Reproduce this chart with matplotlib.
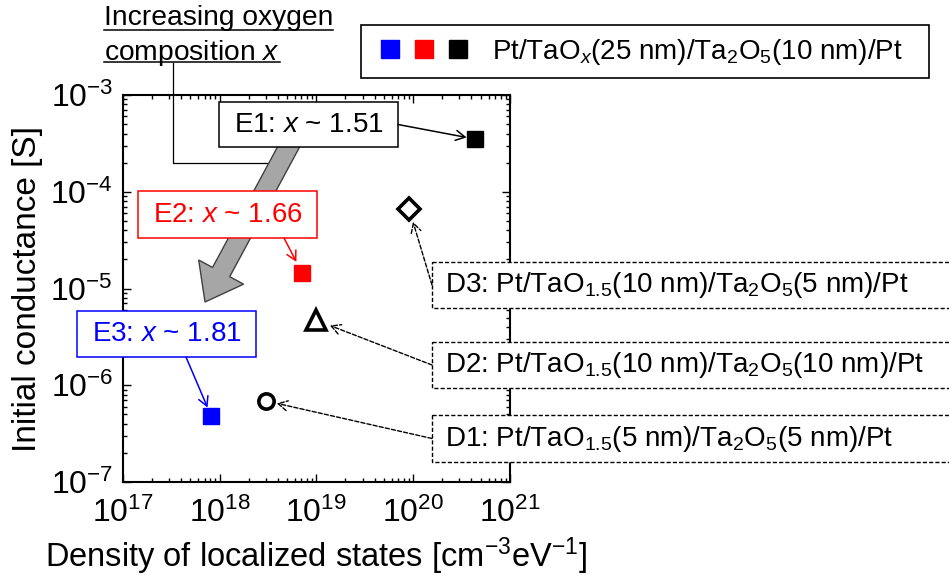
import numpy as np
import matplotlib
matplotlib.use("Agg")
import matplotlib.pyplot as plt
import matplotlib.transforms as mtransforms
from matplotlib.lines import Line2D
from matplotlib.patches import Rectangle, FancyArrow
from matplotlib.legend_handler import HandlerTuple
from matplotlib.ticker import LogLocator, NullFormatter

plt.rcParams['font.family'] = ['Liberation Sans', 'DejaVu Sans']
plt.rcParams['mathtext.fontset'] = 'custom'
plt.rcParams['mathtext.rm'] = 'Liberation Sans'
plt.rcParams['mathtext.it'] = 'Liberation Sans:italic'
plt.rcParams['mathtext.bf'] = 'Liberation Sans:bold'

# E-series: Pt/TaOx(25 nm)/Ta2O5(10 nm)/Pt  (E3, E2, E1)
e_x = [8.2e17, 7.1e18, 4.4e20]
e_y = [4.8e-7, 1.46e-5, 3.5e-4]
e_colors = ['#0000ff', '#ff0000', '#000000']
e_labels = ['E3: $x$ ~ 1.81', 'E2: $x$ ~ 1.66', 'E1: $x$ ~ 1.51']

# D-series: open markers (D1, D2, D3)
d_x = [3.0e18, 1.0e19, 9.1e19]
d_y = [6.9e-7, 4.7e-6, 6.6e-5]
d_markers = ['o', '^', 'D']
d_labels = ['D1: Pt/TaO$_{1.5}$(5 nm)/Ta$_2$O$_5$(5 nm)/Pt',
            'D2: Pt/TaO$_{1.5}$(10 nm)/Ta$_2$O$_5$(10 nm)/Pt',
            'D3: Pt/TaO$_{1.5}$(10 nm)/Ta$_2$O$_5$(5 nm)/Pt']

legend_label = 'Pt/TaO$_x$(25 nm)/Ta$_2$O$_5$(10 nm)/Pt'

W, H = 949, 581
fig = plt.figure(figsize=(W / 100, H / 100), dpi=100)
ax = fig.add_axes([122.7 / W, 1 - 482 / H, 387.3 / W, 387 / H])

# pixel coords measured from the top-left corner of the image
PX = mtransforms.Affine2D().scale(1 / W, -1 / H).translate(0, 1) + fig.transFigure

for x, y, c in zip(e_x, e_y, e_colors):
    ax.plot(x, y, 's', color=c, markersize=11.5, zorder=4)
ms = {'o': 11, '^': 14, 'D': 11}
for x, y, m in zip(d_x, d_y, d_markers):
    ax.plot(x, y, m, mfc='white', mec='black', mew=2.6, markersize=ms[m], zorder=4)

ax.set_xscale('log')
ax.set_yscale('log')
ax.set_xlim(1e17, 1e21)
ax.set_ylim(1e-7, 1e-3)
ax.xaxis.set_major_locator(LogLocator(base=10, numticks=10))
ax.yaxis.set_major_locator(LogLocator(base=10, numticks=10))
ax.xaxis.set_minor_locator(LogLocator(base=10, subs=np.arange(2, 10), numticks=20))
ax.yaxis.set_minor_locator(LogLocator(base=10, subs=np.arange(2, 10), numticks=20))
ax.xaxis.set_minor_formatter(NullFormatter())
ax.yaxis.set_minor_formatter(NullFormatter())
ax.tick_params(which='both', direction='in', top=True, right=True, width=1.0)
ax.tick_params(which='major', length=5.5, labelsize=23)
ax.tick_params(which='minor', length=3)
ax.tick_params(axis='x', which='major', pad=11)
ax.tick_params(axis='y', which='major', pad=7)
for s in ax.spines.values():
    s.set_linewidth(1.5)

ax.set_xlabel('Density of localized states [cm$^{-3}$eV$^{-1}$]', fontsize=23.5)
ax.set_ylabel('Initial conductance [S]', fontsize=24)
ax.xaxis.set_label_coords(0.5, -0.138)
ax.yaxis.set_label_coords(-0.205, 0.5)

# legend with the three coloured squares in one entry
keys = tuple(Line2D([], [], marker='s', ls='none', color=c, markersize=12.5) for c in e_colors)
leg = ax.legend([keys], [legend_label], handler_map={tuple: HandlerTuple(ndivide=None, pad=0)},
                loc='upper left', bbox_to_anchor=(361 / W, 1 - 79 / H, 568 / W, 54 / H),
                bbox_transform=fig.transFigure, mode='expand', borderaxespad=0,
                fontsize=20, handlelength=3.7, handletextpad=0.6, borderpad=0.42,
                fancybox=False, framealpha=1, edgecolor='black')
leg.get_frame().set_linewidth(1.2)

# big grey arrow (increasing x)
tip = np.array([205.0, 302.0])
start = np.array([297.7, 130.0])
d = tip - start
ax.add_patch(FancyArrow(start[0], start[1], d[0], d[1], width=19.5, head_width=51,
                        head_length=34, length_includes_head=True, fc='#a6a6a6',
                        ec='#404040', lw=1.0, transform=PX, clip_on=False, zorder=6))
ax.add_line(Line2D([173.3, 173.3, 285], [63, 162.7, 162.7], color='black', lw=0.9,
                   transform=PX, clip_on=False, zorder=5))

# header text, underlined
t1 = fig.text(104 / W, 1 - 25 / H, 'Increasing oxygen', fontsize=20.3, va='baseline')
t2 = fig.text(104 / W, 1 - 59.5 / H, 'composition $x$', fontsize=20.3, va='baseline')
fig.canvas.draw()
r = fig.canvas.get_renderer()
for t, yy in ((t1, 30), (t2, 62)):
    bb = t.get_window_extent(r)
    fig.add_artist(Line2D([bb.x0 / W, bb.x1 / W], [1 - yy / H] * 2, color='black', lw=1.1,
                          transform=fig.transFigure))

# E boxes: (left, top, right, bottom), arrow start, shrink
e_boxes = [(77, 311, 256, 357), (138, 191, 317, 238), (219, 102, 398, 147)]
e_starts = [(186, 357), (284, 238), (398, 124.5)]
e_shrink = [6.7, 8.7, 6.5]
for (x0, y0, x1, y1), st, sh, lab, c, x, y in zip(e_boxes, e_starts, e_shrink, e_labels,
                                                    e_colors, e_x, e_y):
    ax.add_patch(Rectangle((x0, y0), x1 - x0, y1 - y0, fc='white', ec=c, lw=1.1,
                           transform=PX, clip_on=False, zorder=7))
    ax.text((x0 + x1) / 2, (y0 + y1) / 2, lab, color=c, fontsize=20, ha='center', va='center',
            transform=PX, clip_on=False, zorder=8)
    ax.annotate('', xy=(x, y), xytext=st, textcoords=PX,
                arrowprops=dict(arrowstyle='->,head_length=0.55,head_width=0.3', color=c,
                                lw=1.1, shrinkA=0, shrinkB=sh, mutation_scale=12), zorder=7)

# D boxes (dashed, run off the right edge)
d_boxes = [(432, 415, 962, 462), (432, 342, 962, 388), (432, 262, 962, 308)]
d_shrink = [8.2, 10.5, 9.5]
for (x0, y0, x1, y1), sh, lab, x, y in zip(d_boxes, d_shrink, d_labels, d_x, d_y):
    ax.add_patch(Rectangle((x0, y0), x1 - x0, y1 - y0, fc='white', ec='black', lw=1.0,
                           ls=(0, (3, 1.5)), transform=PX, clip_on=False, zorder=7))
    ax.text(444.8, (y0 + y1) / 2, lab, fontsize=20, ha='left', va='center',
            transform=PX, clip_on=False, zorder=8)
    ax.annotate('', xy=(x, y), xytext=(x0, (y0 + y1) / 2), textcoords=PX,
                arrowprops=dict(arrowstyle='->,head_length=0.55,head_width=0.3', color='black',
                                lw=1.0, ls=(0, (3, 1.5)), shrinkA=0, shrinkB=sh,
                                mutation_scale=12), zorder=7)

fig.savefig('out.png', dpi=100)
